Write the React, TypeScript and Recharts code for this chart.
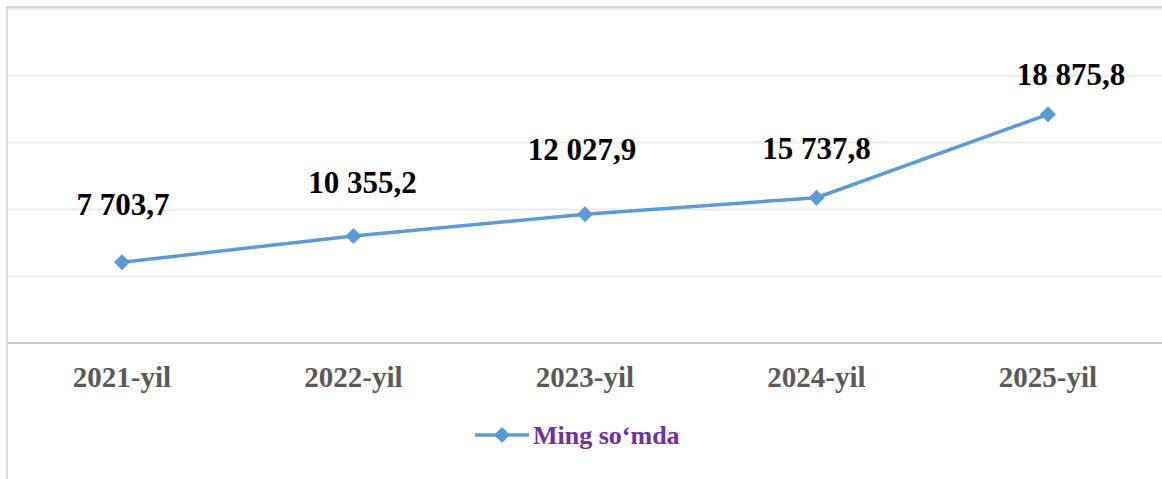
import React from "react";
import {
  LineChart,
  Line,
  XAxis,
  YAxis,
  CartesianGrid,
  Legend,
  LabelList,
} from "recharts";

const years = ["2021-yil", "2022-yil", "2023-yil", "2024-yil", "2025-yil"];
const plotted = [6040, 8009, 9633, 10876, 17118];
// numbers printed above each point
const labelValues = [7703.7, 10355.2, 12027.9, 15737.8, 18875.8];
const yTicks = [0, 5000, 10000, 15000, 20000, 25000];
const seriesName = "Ming so‘mda";

// the labels were moved by hand in the original, nudge them the same way
const LABEL_NUDGE: [number, number][] = [
  [1, -47],
  [9, -43],
  [-3, -54],
  [0, -39],
  [23, -29],
];

const data = years.map((year, i) => ({ year, value: plotted[i], label: labelValues[i] }));

const FONT = "'Liberation Serif', 'Times New Roman', Times, serif";
const LINE = "#5B9BD5";

function fmt(v: number) {
  const [int, dec] = v.toFixed(1).split(".");
  return int.replace(/\B(?=(\d{3})+(?!\d))/g, " ") + "," + dec;
}

function Diamond(props: any) {
  const { cx, cy } = props;
  if (cx == null || cy == null) return null;
  const r = 8;
  return (
    <path
      d={`M${cx},${cy - r} L${cx + r},${cy} L${cx},${cy + r} L${cx - r},${cy} Z`}
      fill={LINE}
    />
  );
}

function YearTick(props: any) {
  const { x, y, payload } = props;
  return (
    <text
      x={x}
      y={y + 44}
      textAnchor="middle"
      style={{ fontFamily: FONT, fontWeight: 700, fontSize: 29 }}
      fill="#595959"
    >
      {payload.value}
    </text>
  );
}

function ValueLabel(props: any) {
  const { x, y, index } = props;
  const [dx, dy] = LABEL_NUDGE[index] || [0, -30];
  return (
    <text
      x={x + dx}
      y={y + dy}
      textAnchor="middle"
      style={{ fontFamily: FONT, fontWeight: 700, fontSize: 31 }}
      fill="#000"
    >
      {fmt(labelValues[index])}
    </text>
  );
}

function LegendBox() {
  return (
    <div style={{ position: "relative", width: 1162, height: 40 }}>
      <svg width={1162} height={40} style={{ position: "absolute", left: 0, top: 0 }}>
        <line x1={475} y1={20} x2={529} y2={20} stroke={LINE} strokeWidth={3.5} />
        <path d="M502,12 L510,20 L502,28 L494,20 Z" fill={LINE} />
        <text
          x={533}
          y={29}
          style={{ fontFamily: FONT, fontWeight: 700, fontSize: 26 }}
          fill="#7030A0"
        >
          {seriesName}
        </text>
      </svg>
    </div>
  );
}

export default function App() {
  return (
    <div style={{ position: "absolute", left: 0, top: 0, width: 1162, height: 479, background: "#fff" }}>
      <LineChart
        width={1162}
        height={479}
        data={data}
        margin={{ top: 9, right: 0, left: 7, bottom: 46 }}
      >
        <CartesianGrid vertical={false} stroke="#ebebeb" strokeWidth={2} />
        <XAxis
          dataKey="year"
          padding={{ left: 115, right: 114 }}
          axisLine={{ stroke: "#c8c8c8", strokeWidth: 2 }}
          tickLine={false}
          tickSize={0}
          tickMargin={0}
          height={50}
          tick={<YearTick />}
          interval={0}
        />
        <YAxis hide domain={[0, 25000]} ticks={yTicks} />
        <Legend
          verticalAlign="bottom"
          content={<LegendBox />}
          wrapperStyle={{ top: 415, left: 0, height: 40, width: 1162, bottom: "auto" }}
        />
        <Line
          name={seriesName}
          dataKey="value"
          stroke={LINE}
          strokeWidth={3.5}
          dot={<Diamond />}
          activeDot={false}
          isAnimationActive={false}
        >
          <LabelList dataKey="label" content={<ValueLabel />} />
        </Line>
      </LineChart>
      <div
        style={{
          position: "absolute",
          left: 6,
          top: 6,
          width: 1162,
          height: 479,
          borderLeft: "2px solid #d9d9d9",
          borderTop: "2px solid #d9d9d9",
          pointerEvents: "none",
        }}
      />
    </div>
  );
}
